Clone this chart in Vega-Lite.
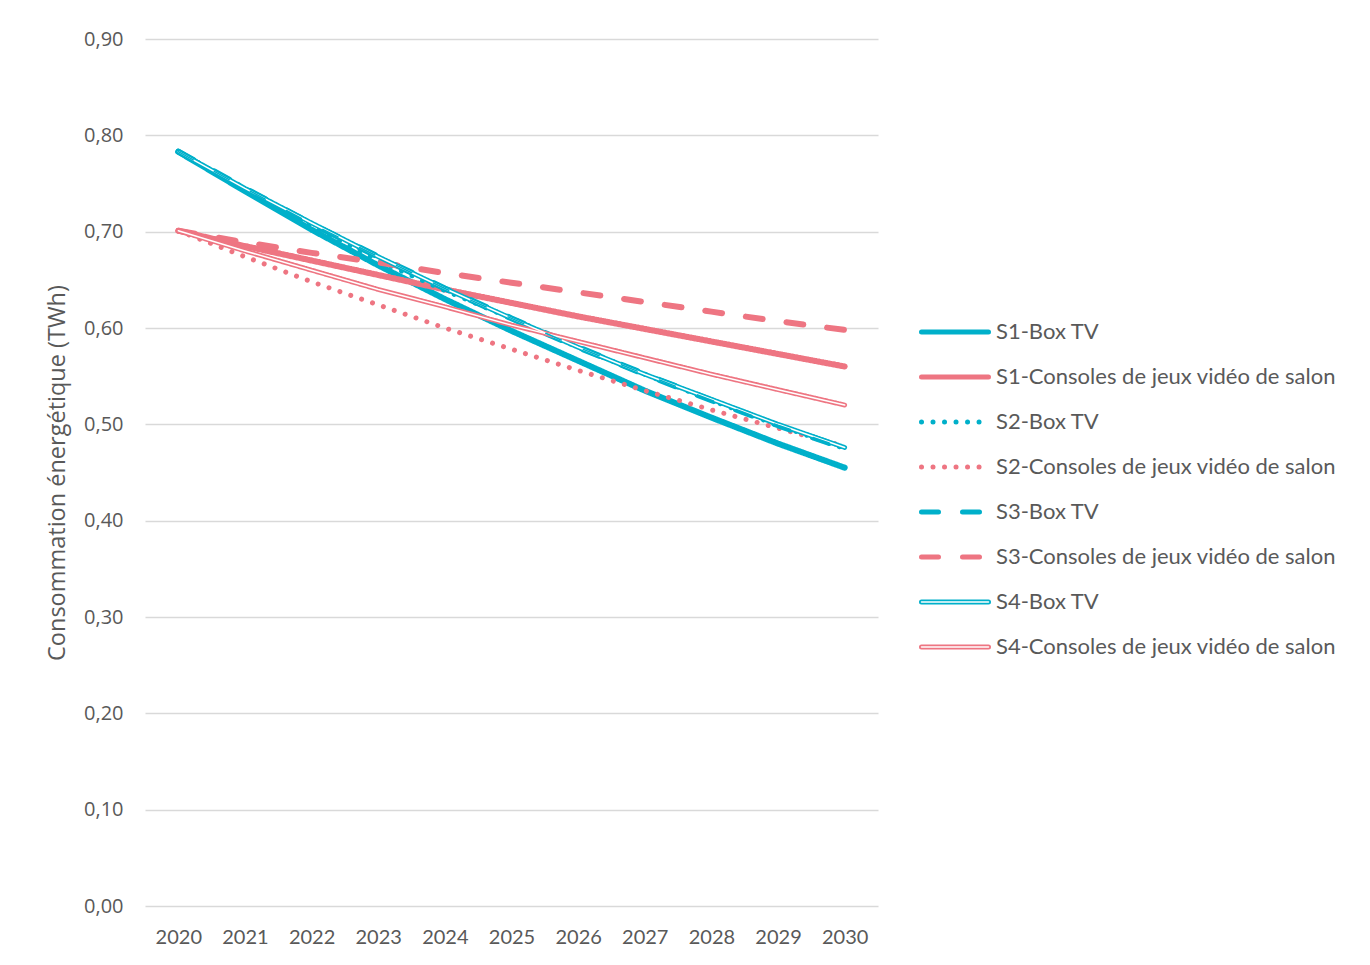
{
  "$schema": "https://vega.github.io/schema/vega-lite/v6.json",
  "width": 733,
  "height": 867,
  "autosize": {"type": "none"},
  "padding": {"left": 145, "top": 39, "right": 492, "bottom": 59},
  "background": "white",
  "config": {"view": {"stroke": null}},
  "datasets": {
    "d": [
      {"year": "2020", "series": "S1-Box TV", "value": 0.783},
      {"year": "2021", "series": "S1-Box TV", "value": 0.742},
      {"year": "2022", "series": "S1-Box TV", "value": 0.702},
      {"year": "2023", "series": "S1-Box TV", "value": 0.665},
      {"year": "2024", "series": "S1-Box TV", "value": 0.630},
      {"year": "2025", "series": "S1-Box TV", "value": 0.597},
      {"year": "2026", "series": "S1-Box TV", "value": 0.566},
      {"year": "2027", "series": "S1-Box TV", "value": 0.535},
      {"year": "2028", "series": "S1-Box TV", "value": 0.507},
      {"year": "2029", "series": "S1-Box TV", "value": 0.480},
      {"year": "2030", "series": "S1-Box TV", "value": 0.455},
      {"year": "2020", "series": "S1-Consoles de jeux vidéo de salon", "value": 0.701},
      {"year": "2021", "series": "S1-Consoles de jeux vidéo de salon", "value": 0.685},
      {"year": "2022", "series": "S1-Consoles de jeux vidéo de salon", "value": 0.670},
      {"year": "2023", "series": "S1-Consoles de jeux vidéo de salon", "value": 0.655},
      {"year": "2024", "series": "S1-Consoles de jeux vidéo de salon", "value": 0.640},
      {"year": "2025", "series": "S1-Consoles de jeux vidéo de salon", "value": 0.626},
      {"year": "2026", "series": "S1-Consoles de jeux vidéo de salon", "value": 0.612},
      {"year": "2027", "series": "S1-Consoles de jeux vidéo de salon", "value": 0.599},
      {"year": "2028", "series": "S1-Consoles de jeux vidéo de salon", "value": 0.586},
      {"year": "2029", "series": "S1-Consoles de jeux vidéo de salon", "value": 0.573},
      {"year": "2030", "series": "S1-Consoles de jeux vidéo de salon", "value": 0.560},
      {"year": "2020", "series": "S2-Box TV", "value": 0.783},
      {"year": "2021", "series": "S2-Box TV", "value": 0.745},
      {"year": "2022", "series": "S2-Box TV", "value": 0.706},
      {"year": "2023", "series": "S2-Box TV", "value": 0.670},
      {"year": "2024", "series": "S2-Box TV", "value": 0.639},
      {"year": "2025", "series": "S2-Box TV", "value": 0.610},
      {"year": "2026", "series": "S2-Box TV", "value": 0.580},
      {"year": "2027", "series": "S2-Box TV", "value": 0.552},
      {"year": "2028", "series": "S2-Box TV", "value": 0.525},
      {"year": "2029", "series": "S2-Box TV", "value": 0.499},
      {"year": "2030", "series": "S2-Box TV", "value": 0.475},
      {"year": "2020", "series": "S2-Consoles de jeux vidéo de salon", "value": 0.701},
      {"year": "2021", "series": "S2-Consoles de jeux vidéo de salon", "value": 0.674},
      {"year": "2022", "series": "S2-Consoles de jeux vidéo de salon", "value": 0.648},
      {"year": "2023", "series": "S2-Consoles de jeux vidéo de salon", "value": 0.624},
      {"year": "2024", "series": "S2-Consoles de jeux vidéo de salon", "value": 0.600},
      {"year": "2025", "series": "S2-Consoles de jeux vidéo de salon", "value": 0.578},
      {"year": "2026", "series": "S2-Consoles de jeux vidéo de salon", "value": 0.556},
      {"year": "2027", "series": "S2-Consoles de jeux vidéo de salon", "value": 0.535},
      {"year": "2028", "series": "S2-Consoles de jeux vidéo de salon", "value": 0.515},
      {"year": "2029", "series": "S2-Consoles de jeux vidéo de salon", "value": 0.496},
      {"year": "2030", "series": "S2-Consoles de jeux vidéo de salon", "value": 0.477},
      {"year": "2020", "series": "S3-Box TV", "value": 0.783},
      {"year": "2021", "series": "S3-Box TV", "value": 0.745},
      {"year": "2022", "series": "S3-Box TV", "value": 0.708},
      {"year": "2023", "series": "S3-Box TV", "value": 0.674},
      {"year": "2024", "series": "S3-Box TV", "value": 0.641},
      {"year": "2025", "series": "S3-Box TV", "value": 0.610},
      {"year": "2026", "series": "S3-Box TV", "value": 0.580},
      {"year": "2027", "series": "S3-Box TV", "value": 0.552},
      {"year": "2028", "series": "S3-Box TV", "value": 0.525},
      {"year": "2029", "series": "S3-Box TV", "value": 0.499},
      {"year": "2030", "series": "S3-Box TV", "value": 0.475},
      {"year": "2020", "series": "S3-Consoles de jeux vidéo de salon", "value": 0.701},
      {"year": "2021", "series": "S3-Consoles de jeux vidéo de salon", "value": 0.689},
      {"year": "2022", "series": "S3-Consoles de jeux vidéo de salon", "value": 0.678},
      {"year": "2023", "series": "S3-Consoles de jeux vidéo de salon", "value": 0.668},
      {"year": "2024", "series": "S3-Consoles de jeux vidéo de salon", "value": 0.657},
      {"year": "2025", "series": "S3-Consoles de jeux vidéo de salon", "value": 0.647},
      {"year": "2026", "series": "S3-Consoles de jeux vidéo de salon", "value": 0.637},
      {"year": "2027", "series": "S3-Consoles de jeux vidéo de salon", "value": 0.627},
      {"year": "2028", "series": "S3-Consoles de jeux vidéo de salon", "value": 0.617},
      {"year": "2029", "series": "S3-Consoles de jeux vidéo de salon", "value": 0.607},
      {"year": "2030", "series": "S3-Consoles de jeux vidéo de salon", "value": 0.598},
      {"year": "2020", "series": "S4-Box TV", "value": 0.783},
      {"year": "2021", "series": "S4-Box TV", "value": 0.745},
      {"year": "2022", "series": "S4-Box TV", "value": 0.709},
      {"year": "2023", "series": "S4-Box TV", "value": 0.674},
      {"year": "2024", "series": "S4-Box TV", "value": 0.641},
      {"year": "2025", "series": "S4-Box TV", "value": 0.610},
      {"year": "2026", "series": "S4-Box TV", "value": 0.580},
      {"year": "2027", "series": "S4-Box TV", "value": 0.552},
      {"year": "2028", "series": "S4-Box TV", "value": 0.526},
      {"year": "2029", "series": "S4-Box TV", "value": 0.500},
      {"year": "2030", "series": "S4-Box TV", "value": 0.476},
      {"year": "2020", "series": "S4-Consoles de jeux vidéo de salon", "value": 0.701},
      {"year": "2021", "series": "S4-Consoles de jeux vidéo de salon", "value": 0.680},
      {"year": "2022", "series": "S4-Consoles de jeux vidéo de salon", "value": 0.660},
      {"year": "2023", "series": "S4-Consoles de jeux vidéo de salon", "value": 0.640},
      {"year": "2024", "series": "S4-Consoles de jeux vidéo de salon", "value": 0.622},
      {"year": "2025", "series": "S4-Consoles de jeux vidéo de salon", "value": 0.603},
      {"year": "2026", "series": "S4-Consoles de jeux vidéo de salon", "value": 0.586},
      {"year": "2027", "series": "S4-Consoles de jeux vidéo de salon", "value": 0.569},
      {"year": "2028", "series": "S4-Consoles de jeux vidéo de salon", "value": 0.552},
      {"year": "2029", "series": "S4-Consoles de jeux vidéo de salon", "value": 0.536},
      {"year": "2030", "series": "S4-Consoles de jeux vidéo de salon", "value": 0.520}
    ]
  },
  "data": {"name": "d"},
  "encoding": {
    "x": {
      "field": "year", "type": "ordinal",
      "scale": {"type": "point", "padding": 0.5},
      "axis": {"title": null, "labelAngle": 0, "labelFont": "Lato", "labelFontSize": 20, "labelColor": "#595959", "ticks": false, "tickSize": 0, "domain": false, "grid": false, "labelPadding": 21}
    },
    "y": {
      "field": "value", "type": "quantitative",
      "scale": {"domain": [0, 0.9], "nice": false, "zero": true},
      "axis": {
        "title": "Consommation énergétique (TWh)", "titleFont": "Open Sans", "titleFontSize": 23.5, "titleFontWeight": "normal", "titleColor": "#595959", "titlePadding": 14,
        "labelFont": "Open Sans", "labelFontSize": 20, "labelColor": "#595959",
        "values": [0, 0.1, 0.2, 0.3, 0.4, 0.5, 0.6, 0.7, 0.8, 0.9],
        "labelExpr": "replace(format(datum.value, '.2f'), '.', ',')",
        "grid": true, "gridColor": "#d9d9d9", "gridWidth": 1.3, "ticks": false, "tickSize": 0, "domain": false, "labelPadding": 22
      }
    }
  },
  "layer": [
    {
      "encoding": {
        "color": {
          "field": "series", "type": "nominal",
          "scale": {
            "domain": ["S1-Box TV", "S1-Consoles de jeux vidéo de salon", "S2-Box TV", "S2-Consoles de jeux vidéo de salon", "S3-Box TV", "S3-Consoles de jeux vidéo de salon", "S4-Box TV", "S4-Consoles de jeux vidéo de salon"],
            "range": ["#00B0CA", "#EE7582", "#00B0CA", "#EE7582", "#00B0CA", "#EE7582", "#00B0CA", "#EE7582"]
          },
          "legend": {
            "title": null, "orient": "none", "legendX": 799, "legendY": 282, "padding": 0,
            "symbolType": "M-6.7,0L6.7,0", "symbolSize": 100, "symbolStrokeWidth": 5,
            "labelFont": "Lato", "labelFontSize": 22, "labelColor": "#595959", "labelOffset": 30, "labelLimit": 600,
            "rowPadding": 23,
            "encode": {"symbols": {"update": {"strokeCap": {"value": "round"}, "strokeWidth": {"value": 5}}}}
          }
        },
        "strokeDash": {
          "field": "series", "type": "nominal",
          "scale": {
            "domain": ["S1-Box TV", "S1-Consoles de jeux vidéo de salon", "S2-Box TV", "S2-Consoles de jeux vidéo de salon", "S3-Box TV", "S3-Consoles de jeux vidéo de salon", "S4-Box TV", "S4-Consoles de jeux vidéo de salon"],
            "range": [[1, 0], [1, 0], [0.01, 11.5], [0.01, 11.5], [17, 24], [17, 24], [1, 0], [1, 0]]
          }
        }
      },
      "layer": [
        {
          "transform": [{"filter": "indexof(datum.series, 'S1-') === 0"}],
          "mark": {"type": "line", "strokeWidth": 6, "strokeCap": "round", "strokeJoin": "round"}
        },
        {
          "transform": [{"filter": "indexof(datum.series, 'S2-') === 0"}],
          "mark": {"type": "line", "strokeWidth": 5, "strokeCap": "round", "strokeJoin": "round"}
        },
        {
          "transform": [{"filter": "indexof(datum.series, 'S3-') === 0"}],
          "mark": {"type": "line", "strokeWidth": 6, "strokeCap": "round", "strokeJoin": "round"}
        },
        {
          "transform": [{"filter": "indexof(datum.series, 'S4-') === 0"}],
          "mark": {"type": "line", "strokeWidth": 4.8, "strokeCap": "round", "strokeJoin": "round"}
        }
      ]
    },
    {
      "mark": {"type": "line", "color": "white", "strokeWidth": 1.5, "strokeCap": "round", "strokeJoin": "round"},
      "encoding": {
        "opacity": {
          "field": "series", "type": "nominal",
          "scale": {"type": "ordinal", "range": [0, 0, 0, 0, 0, 0, 1, 1]},
          "legend": {
            "title": null, "orient": "none", "legendX": 799, "legendY": 327, "padding": 0, "zindex": 2,
            "symbolType": "M-6.7,0L6.7,0", "symbolSize": 100, "symbolStrokeColor": "white", "symbolStrokeWidth": 1.5,
            "labelFont": "Lato", "labelFontSize": 22, "labelColor": "#595959", "labelOpacity": 0, "labelOffset": -55, "labelLimit": 600,
            "labelExpr": "'.'",
            "rowPadding": 23,
            "encode": {"symbols": {"update": {"strokeCap": {"value": "round"}}}}
          }
        }
      }
    },
    {
      "transform": [{"filter": "datum.series === 'S3-Box TV'"}],
      "mark": {"type": "line", "color": "#00B0CA", "strokeWidth": 1.5, "strokeDash": [17, 24], "strokeCap": "round"},
      "encoding": {}
    }
  ]
}
